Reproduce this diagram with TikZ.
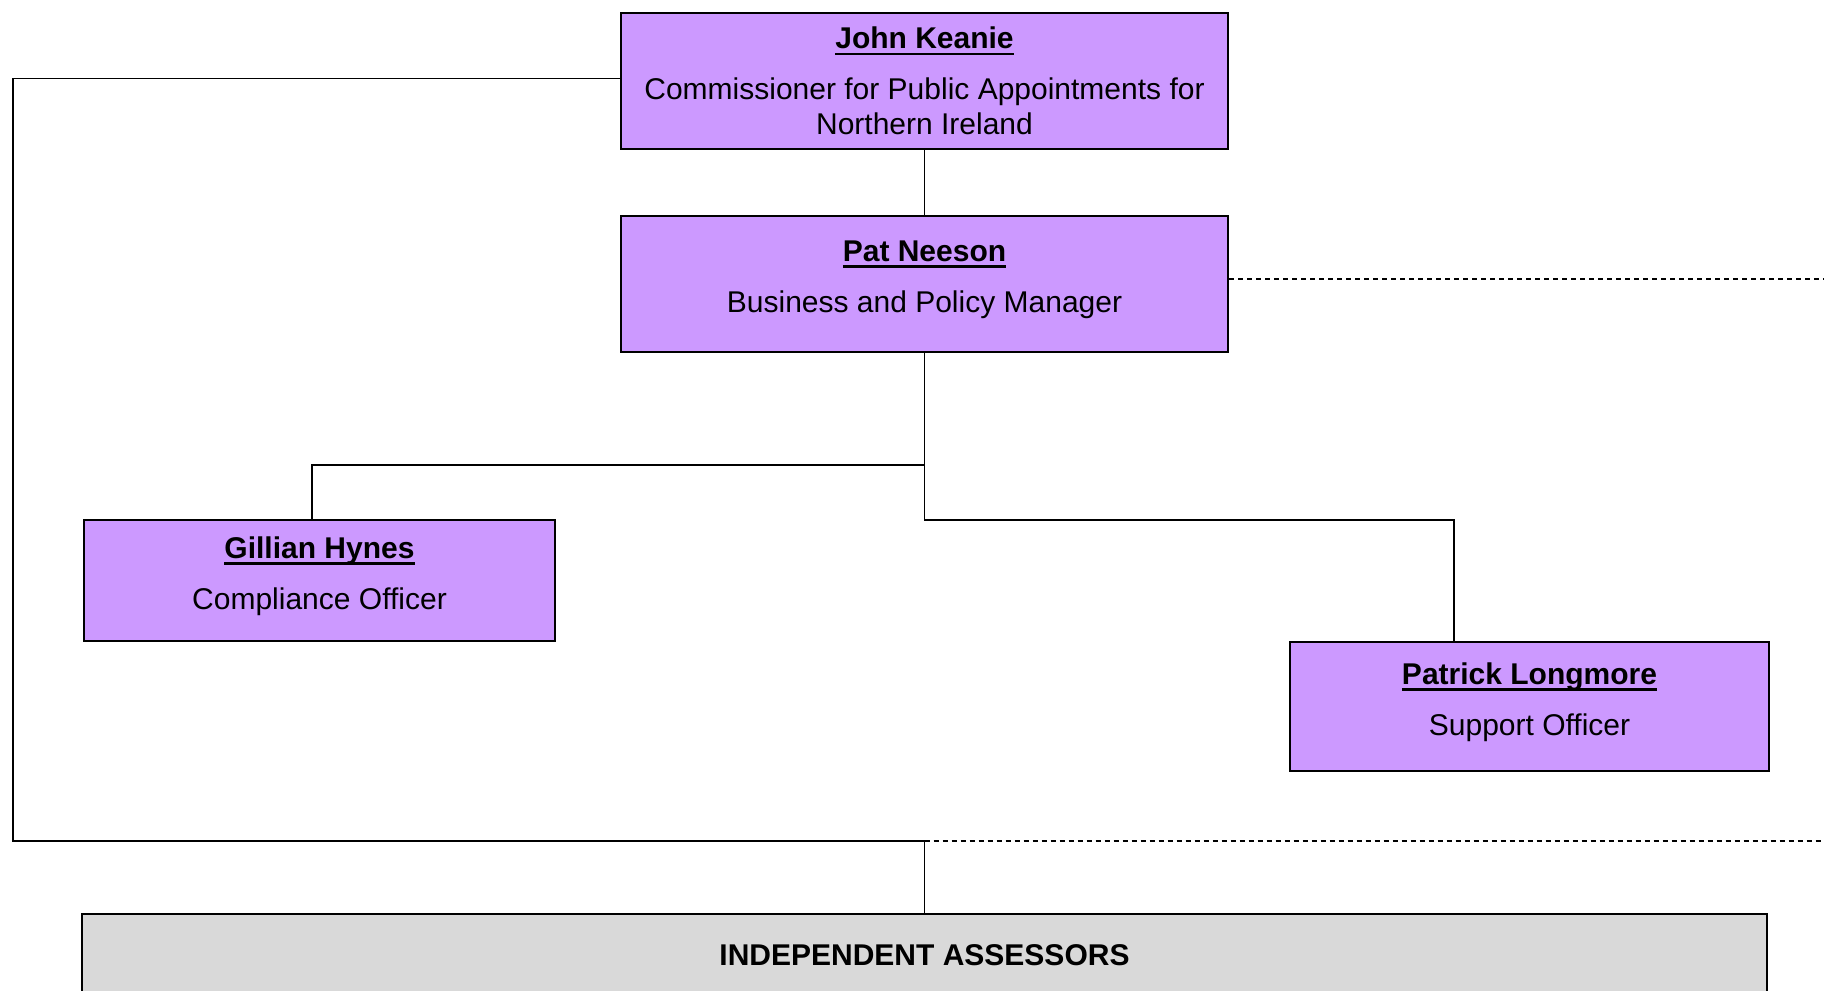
\documentclass[tikz,border=0pt]{standalone}
\usepackage{fontspec}
\setmainfont{Liberation Sans}
\newcommand{\who}[1]{\setbox0\hbox{\textbf{#1}}\rlap{\rule[-2.6pt]{\wd0}{1.1pt}}\box0}
\begin{document}
\begin{tikzpicture}[x=0.4pt, y=-0.4pt,
    person/.style ={rectangle, draw, line width=0.7pt, fill=lilac, align=center, inner sep=0pt,
      font=\fontsize{12}{13.8}\selectfont},
    lifted/.style ={text depth=6pt},
    link/.style ={line width=0.5pt},
    dotlink/.style ={line width=0.5pt, dash pattern=on 2pt off 1.6pt}]
   \definecolor{lilac}{HTML}{CC99FF}
   \definecolor{panel}{HTML}{D9D9D9}
   \useasboundingbox (0,0) rectangle (1824,991);
   \node[person, minimum width=243pt, minimum height=54.4pt] (john) at (924.5,81)
     {\who{John Keanie}\\[6.6pt] Commissioner for Public Appointments for\\ Northern Ireland};
   \node[person, lifted, minimum width=243pt, minimum height=54.4pt] (pat) at (924.5,284)
     {\who{Pat Neeson}\\[6.6pt] Business and Policy Manager};
   \node[person, lifted, minimum width=188.4pt, minimum height=48.4pt] (gillian) at (319.5,580.5)
     {\who{Gillian Hynes}\\[6.6pt] Compliance Officer};
   \node[person, lifted, minimum width=191.6pt, minimum height=51.6pt] (patrick) at (1529.5,706.5)
     {\who{Patrick Longmore}\\[6.6pt] Support Officer};
   \node[person, fill=panel, minimum width=674pt, minimum height=32.8pt] (assess) at (924.5,955)
     {\textbf{INDEPENDENT ASSESSORS}};
   \coordinate (gx) at (312,465);
   \coordinate (px) at (1454,520);
   \coordinate (loop) at (13,841);
   \coordinate (hub) at (924.5,841);
   \coordinate (edge) at (1824,841);
   % reporting lines
   \draw[link] (john) -- (pat);
   \draw[link] (pat.south) |- (gx) -- (gillian.north -| gx);
   \draw[link] (pat.south) |- (px) -- (patrick.north -| px);
   \draw[link] ([yshift=1pt]john.west) -| (loop) -- (hub) -- (assess.north);
   \draw[dotlink] ([yshift=2pt]pat.east) -- ([yshift=2pt]pat.east -| edge);
   \draw[dotlink] (hub) -- (edge);
 \end{tikzpicture}
\end{document}
